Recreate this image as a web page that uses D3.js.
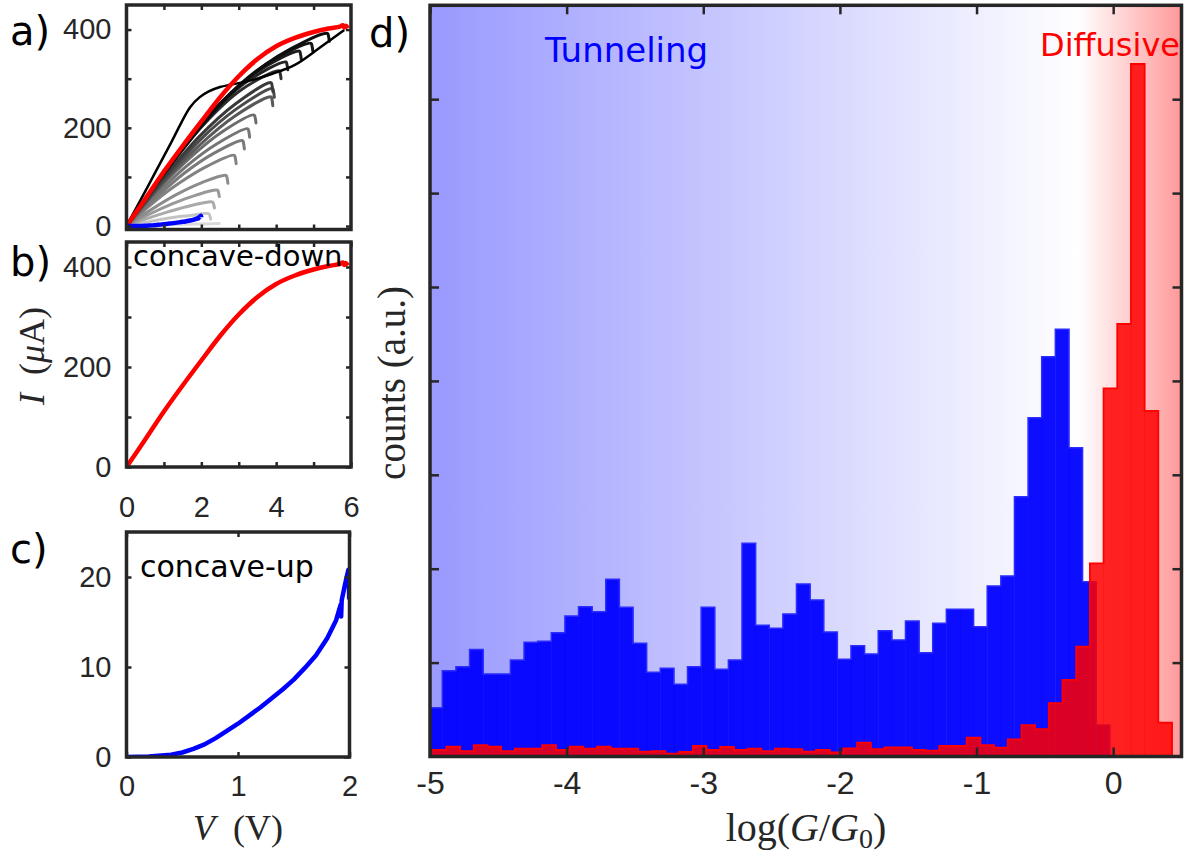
<!DOCTYPE html>
<html>
<head>
<meta charset="utf-8">
<script src="https://cdn.jsdelivr.net/npm/d3@7"></script>
<style>
  body { margin: 0; background: #fff; }
  svg { display: block; }
</style>
</head>
<body>
<div id="chart"></div>
<script>
// ---- panel d: conductance histograms (counts in axis units) ----
const blueStart = -5.0097;
const blueWidth = 0.0997;
const blueCounts = [0.52, 0.914, 0.956, 1.14, 0.879, 0.879, 1.028, 1.216, 1.227, 1.318,
  1.496, 1.595, 1.542, 1.887, 1.589, 1.205, 0.897, 0.939, 0.769, 0.956,
  1.589, 0.929, 1.028, 2.27, 1.397, 1.365, 1.518, 1.837, 1.667, 1.326,
  1.035, 1.18, 1.092, 1.34, 1.241, 1.443, 1.105, 1.418, 1.567, 1.567,
  1.382, 1.816, 1.922, 2.767, 3.608, 4.258, 4.55, 3.289, 1.862, 0.335];

const redStart = -4.9802;
const redWidth = 0.1002;
const redCounts = [0.069, 0.104, 0.058, 0.122, 0.104, 0.058, 0.083, 0.083, 0.122, 0.069,
  0.104, 0.083, 0.104, 0.083, 0.083, 0.051, 0.058, 0.03, 0.048, 0.112,
  0.069, 0.101, 0.069, 0.083, 0.058, 0.083, 0.077, 0.051, 0.069, 0.045,
  0.087, 0.147, 0.077, 0.098, 0.098, 0.069, 0.062, 0.112, 0.112, 0.2,
  0.122, 0.094, 0.183, 0.335, 0.29, 0.567, 0.815, 1.169, 2.057, 3.921,
  4.606, 7.375, 3.68, 0.36];

const histTicksX = [-5, -4, -3, -2, -1, 0];
const histTicksY = [1, 2, 3, 4, 5, 6, 7];

// ---- panels a-c: I-V sweeps, [V, I(uA)] ----
const redSweep = [[0, 0], [0.5, 55], [1.0, 111], [1.5, 163], [2.0, 213], [2.5, 262], [3.0, 305],
  [3.5, 340], [4.0, 366], [4.5, 383], [5.0, 395], [5.4, 402], [5.7, 406],
  [5.78, 409], [5.82, 404], [5.86, 408], [5.92, 403]];

const blueSweep = [[0, 0], [0.2, 0.05], [0.4, 0.25], [0.5, 0.5], [0.6, 0.9], [0.7, 1.4], [0.8, 2.1],
  [0.9, 2.9], [1.0, 3.7], [1.1, 4.6], [1.2, 5.5], [1.3, 6.5], [1.4, 7.5], [1.5, 8.6], [1.6, 9.9],
  [1.7, 11.3], [1.8, 13.2], [1.88, 15.2], [1.92, 16.9], [1.925, 15.6], [1.93, 17.4], [1.96, 19.2],
  [1.99, 20.8], [1.995, 19.2], [1.997, 17.5]];

const blackSweep = [[0, 0], [0.6, 85], [1.2, 171], [1.7, 242], [1.95, 262], [2.2, 274], [2.5, 283],
  [2.8, 288], [3.3, 296], [3.9, 310], [4.5, 328], [5.2, 365], [5.82, 399]];

// light to dark
const graySweeps = [
  [[0, 0], [0.62, 2], [1.24, 3], [1.86, 4], [2.48, 5]],
  [[0, 0], [0.55, 8], [1.1, 16], [1.65, 21], [2.2, 25], [2.23, 20], [2.25, 14]],
  [[0, 0], [0.58, 16], [1.15, 30], [1.73, 42], [2.3, 49], [2.33, 44], [2.35, 37]],
  [[0, 0], [0.61, 24], [1.22, 45], [1.82, 62], [2.43, 73], [2.46, 68], [2.48, 60]],
  [[0, 0], [0.67, 34], [1.33, 64], [2.0, 88], [2.66, 103], [2.69, 97], [2.71, 87]],
  [[0, 0], [0.72, 48], [1.44, 89], [2.16, 122], [2.88, 144], [2.91, 138], [2.93, 127]],
  [[0, 0], [0.78, 57], [1.55, 108], [2.33, 148], [3.1, 174], [3.13, 168], [3.15, 157]],
  [[0, 0], [0.81, 65], [1.62, 123], [2.43, 168], [3.24, 198], [3.27, 192], [3.29, 181]],
  [[0, 0], [0.85, 75], [1.71, 140], [2.56, 192], [3.41, 226], [3.44, 220], [3.46, 210]],
  [[0, 0], [0.97, 87], [1.93, 163], [2.9, 224], [3.86, 263], [3.89, 257], [3.91, 245]],
  [[0, 0], [0.98, 92], [1.95, 174], [2.93, 238], [3.9, 280], [3.93, 274], [3.95, 262]],
  [[0, 0], [0.97, 96], [1.93, 181], [2.9, 248], [3.86, 292], [3.89, 286], [3.91, 274]],
  [[0, 0], [1.02, 109], [2.04, 205], [3.06, 277], [4.08, 316], [4.11, 310], [4.13, 300]],
  [[0, 0], [1.07, 116], [2.13, 218], [3.2, 293], [4.26, 334], [4.29, 328], [4.31, 318]],
  [[0, 0], [1.16, 125], [2.31, 234], [3.47, 313], [4.62, 356], [4.65, 350], [4.67, 340]],
  [[0, 0], [1.23, 132], [2.47, 247], [3.7, 328], [4.93, 372], [4.96, 366], [4.98, 356]],
  [[0, 0], [1.34, 140], [2.69, 262], [4.03, 345], [5.37, 392], [5.4, 386], [5.42, 376]]
];
const grayShades = ["#dadada", "#c4c4c4", "#aaaaaa", "#999999", "#8c8c8c", "#828282", "#7a7a7a",
  "#757575", "#6c6c6c", "#595959", "#4a4a4a", "#3a3a3a", "#2e2e2e", "#242424", "#1c1c1c",
  "#151515", "#0e0e0e"];

const ivTicksX = [0, 1, 2, 3, 4, 5, 6];
const ivTicksY = [0, 100, 200, 300, 400];

const W = 1187, H = 859;
const axisColor = "#262626";
const tickFont = "'Liberation Sans', Arial, sans-serif";
const textFont = "'DejaVu Sans', sans-serif";
const mathFont = "'Liberation Serif', 'Times New Roman', serif";

const svg = d3.select("#chart").append("svg")
    .attr("width", W)
    .attr("height", H)
    .style("background", "#fff");

const defs = svg.append("defs");

// draws box, inward ticks on all four sides and labels
function frame(x, y, opts) {
    const [x0, x1] = x.range();
    const [y0, y1] = y.range();
    const g = svg.append("g");
    const fmt = list => (d => list.includes(d) ? String(d) : "");

    const styleAxis = sel => {
        sel.select(".domain").remove();
        sel.selectAll(".tick line").attr("stroke", axisColor).attr("stroke-width", 2.5);
        sel.selectAll(".tick text")
            .attr("fill", axisColor)
            .style("font-family", tickFont)
            .style("font-size", opts.fontSize + "px");
    };

    g.append("g")
        .attr("transform", `translate(0,${y0})`)
        .call(d3.axisBottom(x).tickValues(opts.xTicks).tickSize(-opts.len)
            .tickPadding(opts.xPad).tickFormat(fmt(opts.xLabels)))
        .call(styleAxis);
    g.append("g")
        .attr("transform", `translate(0,${y1})`)
        .call(d3.axisTop(x).tickValues(opts.xTicks).tickSize(-opts.len).tickFormat(""))
        .call(styleAxis);
    g.append("g")
        .attr("transform", `translate(${x0},0)`)
        .call(d3.axisLeft(y).tickValues(opts.yTicks).tickSize(-opts.len)
            .tickPadding(opts.yPad).tickFormat(fmt(opts.yLabels)))
        .call(styleAxis);
    g.append("g")
        .attr("transform", `translate(${x1},0)`)
        .call(d3.axisRight(y).tickValues(opts.yTicks).tickSize(-opts.len).tickFormat(""))
        .call(styleAxis);

    g.append("rect")
        .attr("x", x0).attr("y", y1)
        .attr("width", x1 - x0).attr("height", y0 - y1)
        .attr("fill", "none")
        .attr("stroke", axisColor)
        .attr("stroke-width", 3.5);
}

function clipFor(id, x, y) {
    const [x0, x1] = x.range();
    const [y0, y1] = y.range();
    defs.append("clipPath").attr("id", id)
        .append("rect")
        .attr("x", x0).attr("y", y1)
        .attr("width", x1 - x0).attr("height", y0 - y1);
    return svg.append("g").attr("clip-path", `url(#${id})`);
}

// ================= panel d =================
const hx = d3.scaleLinear().domain([-5, 0.5]).range([430, 1181.5]);
const hy = d3.scaleLinear().domain([0, 8]).range([756.5, 5.3]);

const grad = defs.append("linearGradient")
    .attr("id", "bg")
    .attr("gradientUnits", "userSpaceOnUse")
    .attr("x1", hx(-5)).attr("x2", hx(0.5))
    .attr("y1", 0).attr("y2", 0);
grad.append("stop").attr("offset", 0).attr("stop-color", "#9999ff");
grad.append("stop").attr("offset", (hx(-0.25) - hx(-5)) / (hx(0.5) - hx(-5))).attr("stop-color", "#ffffff");
grad.append("stop").attr("offset", 1).attr("stop-color", "#ff9999");

const plotD = clipFor("clipD", hx, hy);

plotD.append("rect")
    .attr("x", hx(-5)).attr("y", hy(8))
    .attr("width", hx(0.5) - hx(-5)).attr("height", hy(0) - hy(8))
    .attr("fill", "url(#bg)");

function drawHist(counts, start, width, fill, alpha, edge, edgeWidth) {
    const bins = counts.map((c, i) => ({
        x0: i === 0 ? Math.min(start, -5.02) : start + i * width,
        x1: start + (i + 1) * width,
        c: c
    }));
    plotD.append("g").selectAll("rect")
        .data(bins)
        .join("rect")
        .attr("x", d => hx(d.x0))
        .attr("width", d => hx(d.x1) - hx(d.x0) + 0.4)
        .attr("y", d => hy(d.c))
        .attr("height", d => hy(0) - hy(d.c))
        .attr("fill", fill)
        .attr("fill-opacity", alpha);

    const pts = [[bins[0].x0, 0]]
        .concat(bins.map(b => [b.x0, b.c]))
        .concat([[bins[bins.length - 1].x1, counts[counts.length - 1]], [bins[bins.length - 1].x1, 0]]);
    plotD.append("path")
        .attr("d", d3.line().x(d => hx(d[0])).y(d => hy(d[1])).curve(d3.curveStepAfter)(pts))
        .attr("fill", "none")
        .attr("stroke", edge)
        .attr("stroke-width", edgeWidth);
}

drawHist(blueCounts, blueStart, blueWidth, "#0000ff", 0.95, "#2c2cff", 1.5);
drawHist(redCounts, redStart, redWidth, "#ff0000", 0.85, "#ff0000", 1.8);

frame(hx, hy, {
    xTicks: histTicksX, xLabels: histTicksX,
    yTicks: histTicksY, yLabels: [],
    len: 9, xPad: 15, yPad: 10, fontSize: 32
});

svg.append("text")
    .attr("x", 545).attr("y", 62)
    .attr("fill", "#0000ff")
    .style("font-family", textFont).style("font-size", "34px")
    .text("Tunneling");

svg.append("text")
    .attr("x", 1040).attr("y", 56)
    .attr("fill", "#ff0000")
    .style("font-family", textFont).style("font-size", "32px")
    .text("Diffusive");

// x label log(G/G0)
const logLab = svg.append("text")
    .attr("x", 806).attr("y", 841)
    .attr("text-anchor", "middle")
    .attr("fill", axisColor)
    .style("font-family", mathFont).style("font-size", "40px");
logLab.append("tspan").text("log(");
logLab.append("tspan").style("font-style", "italic").text("G");
logLab.append("tspan").text("/");
logLab.append("tspan").style("font-style", "italic").text("G");
logLab.append("tspan").attr("dy", 7).style("font-size", "28px").text("0");
logLab.append("tspan").attr("dy", -7).text(")");

svg.append("text")
    .attr("transform", "translate(405,383) rotate(-90)")
    .attr("text-anchor", "middle")
    .attr("fill", axisColor)
    .style("font-family", mathFont).style("font-size", "39px")
    .text("counts (a.u.)");

// ================= panel a =================
const ax = d3.scaleLinear().domain([0, 6]).range([126.5, 351]);
const ay = d3.scaleLinear().domain([-7, 450]).range([229.5, 5]);
const ivLine = (x, y) => d3.line().x(d => x(d[0])).y(d => y(d[1])).curve(d3.curveCatmullRom.alpha(0.5));

const plotA = clipFor("clipA", ax, ay);
plotA.selectAll(".gray")
    .data(graySweeps)
    .join("path")
    .attr("d", ivLine(ax, ay))
    .attr("fill", "none")
    .attr("stroke", (d, i) => grayShades[i])
    .attr("stroke-width", 3)
    .attr("stroke-linecap", "round");
plotA.append("path")
    .attr("d", ivLine(ax, ay)(blackSweep))
    .attr("fill", "none").attr("stroke", "#000").attr("stroke-width", 2.5);
plotA.append("path")
    .attr("d", ivLine(ax, ay)(redSweep))
    .attr("fill", "none").attr("stroke", "#ff0000").attr("stroke-width", 4.5);
plotA.append("path")
    .attr("d", ivLine(ax, ay)(blueSweep))
    .attr("fill", "none").attr("stroke", "#0000ff").attr("stroke-width", 4.5);

frame(ax, ay, {
    xTicks: ivTicksX.slice(1, 6), xLabels: [],
    yTicks: ivTicksY, yLabels: [0, 200, 400],
    len: 5, xPad: 20, yPad: 15, fontSize: 29
});

// ================= panel b =================
const bx = d3.scaleLinear().domain([0, 6]).range([126.5, 351]);
const by = d3.scaleLinear().domain([0, 450]).range([467, 242]);

const plotB = clipFor("clipB", bx, by);
plotB.append("path")
    .attr("d", ivLine(bx, by)(redSweep))
    .attr("fill", "none").attr("stroke", "#ff0000").attr("stroke-width", 4.5);

frame(bx, by, {
    xTicks: ivTicksX, xLabels: [0, 2, 4, 6],
    yTicks: ivTicksY, yLabels: [0, 200, 400],
    len: 5, xPad: 29, yPad: 15, fontSize: 29
});

svg.append("text")
    .attr("x", 133).attr("y", 266)
    .attr("fill", "#000")
    .style("font-family", textFont).style("font-size", "29px")
    .text("concave-down");

// ================= panel c =================
const cx = d3.scaleLinear().domain([0, 2]).range([126.5, 349.5]);
const cy = d3.scaleLinear().domain([0, 25]).range([757, 532]);

const plotC = clipFor("clipC", cx, cy);
plotC.append("path")
    .attr("d", d3.line().x(d => cx(d[0])).y(d => cy(d[1]))(blueSweep))
    .attr("fill", "none").attr("stroke", "#0000ff").attr("stroke-width", 4.5)
    .attr("stroke-linejoin", "round");

frame(cx, cy, {
    xTicks: [0, 1, 2], xLabels: [0, 1, 2],
    yTicks: [0, 10, 20], yLabels: [0, 10, 20],
    len: 5, xPad: 18, yPad: 15, fontSize: 29
});

svg.append("text")
    .attr("x", 140).attr("y", 577)
    .attr("fill", "#000")
    .style("font-family", textFont).style("font-size", "30px")
    .text("concave-up");

// axis labels of the I-V panels
const vLab = svg.append("text")
    .attr("x", 238).attr("y", 840)
    .attr("text-anchor", "middle")
    .attr("fill", axisColor)
    .style("font-family", mathFont).style("font-size", "36px");
vLab.append("tspan").style("font-style", "italic").text("V");
vLab.append("tspan").text("\u2002(V)");

const iLab = svg.append("text")
    .attr("transform", "translate(44,356) rotate(-90)")
    .attr("text-anchor", "middle")
    .attr("fill", axisColor)
    .style("font-family", mathFont).style("font-size", "36px");
iLab.append("tspan").style("font-style", "italic").text("I");
iLab.append("tspan").text("\u2002(");
iLab.append("tspan").style("font-style", "italic").text("\u03bc");
iLab.append("tspan").text("A)");

// panel letters
const letters = [["a)", 10, 45], ["b)", 10, 276], ["c)", 10, 563], ["d)", 369, 47]];
svg.selectAll(".letter")
    .data(letters)
    .join("text")
    .attr("x", d => d[1]).attr("y", d => d[2])
    .attr("fill", "#000")
    .style("font-family", textFont).style("font-size", "40px")
    .text(d => d[0]);
</script>
</body>
</html>
